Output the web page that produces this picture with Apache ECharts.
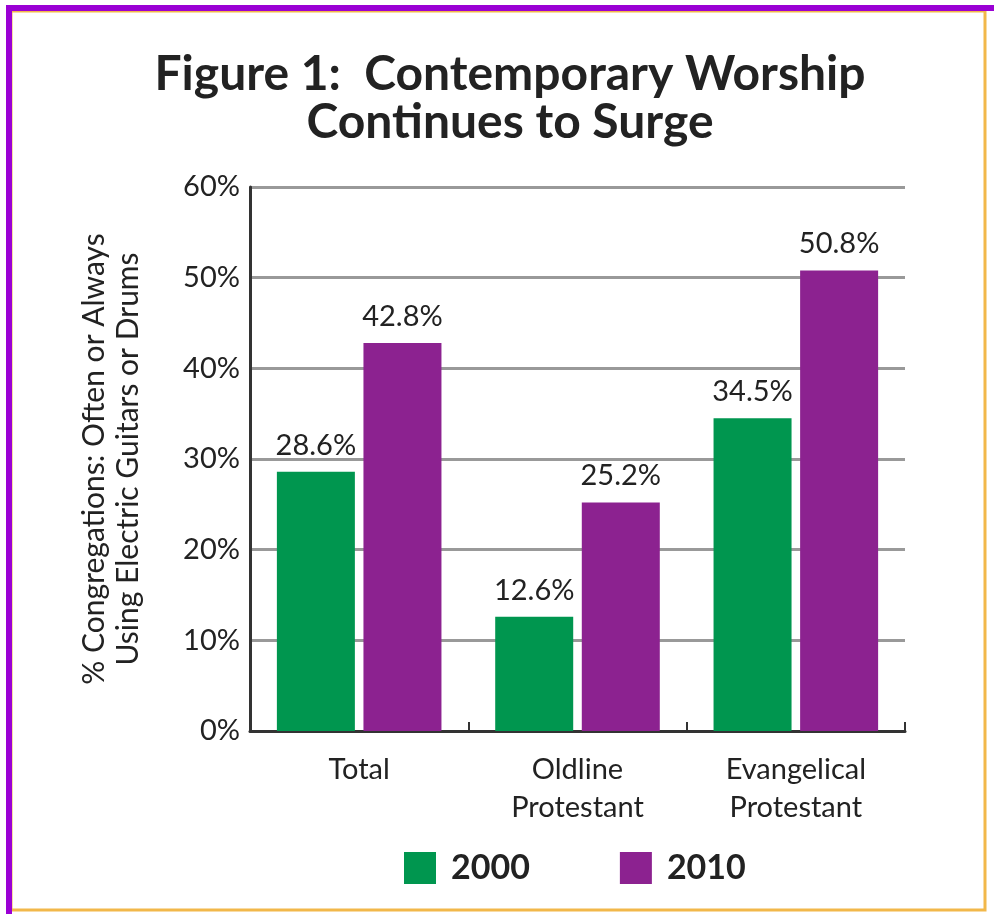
<!DOCTYPE html>
<html>
<head>
<meta charset="utf-8">
<script src="https://cdn.jsdelivr.net/npm/echarts@6/dist/echarts.min.js"></script>
<style>
html,body{margin:0;padding:0;background:#fff;}
#chart{width:994px;height:914px;}
</style>
</head>
<body>
<div id="chart"></div>
<script>
const categories = ['Total', 'Oldline\nProtestant', 'Evangelical\nProtestant'];
const seriesNames = ['2000', '2010'];
const values2000 = [28.6, 12.6, 34.5];
const values2010 = [42.8, 25.2, 50.8];
const yTicks = [0, 10, 20, 30, 40, 50, 60];

const FONT = 'Lato, "DejaVu Sans", sans-serif';
const GREEN = '#00964f';
const PURPLE = '#8c2290';

const chart = echarts.init(document.getElementById('chart'));
const labelCfg = {
  show: true, position: 'top', distance: 12,
  formatter: p => p.value.toFixed(1) + '%',
  fontFamily: FONT, fontSize: 29, color: '#222'
};
chart.setOption({
  backgroundColor: '#fff',
  title: {
    text: 'Figure 1:  Contemporary Worship\nContinues to Surge',
    left: 505, textAlign: 'center', top: 46,
    textStyle: { fontFamily: FONT, fontWeight: 'bold', fontSize: 48, lineHeight: 48, color: '#222' }
  },
  legend: {
    data: seriesNames, left: 399, top: 846,
    icon: 'rect', itemWidth: 32, itemHeight: 32, itemGap: 90,
    textStyle: { fontFamily: FONT, fontWeight: 'bold', fontSize: 34, color: '#222', padding: [0, 0, 0, 10] }
  },
  grid: { left: 250, right: 89, top: 187, bottom: 183 },
  xAxis: {
    type: 'category', data: categories,
    axisLine: { lineStyle: { color: '#333', width: 3 } },
    axisTick: { show: true, inside: true, length: 9, lineStyle: { color: '#333', width: 2 } },
    axisLabel: { fontFamily: FONT, fontSize: 29, color: '#222', lineHeight: 38, margin: 20 }
  },
  yAxis: {
    type: 'value', min: 0, max: 60, interval: 10,
    name: '% Congregations: Often or Always\nUsing Electric Guitars or Drums',
    nameLocation: 'middle', nameGap: 105, nameRotate: 90,
    nameTextStyle: { fontFamily: FONT, fontSize: 30, color: '#222', lineHeight: 34 },
    axisLine: { show: true, lineStyle: { color: '#333', width: 3 } },
    axisTick: { show: false },
    splitLine: { lineStyle: { color: '#999', width: 3 } },
    axisLabel: {
      fontFamily: FONT, fontSize: 29, color: '#222', margin: 10,
      formatter: v => yTicks.includes(v) ? v + '%' : ''
    }
  },
  series: [
    { name: seriesNames[0], type: 'bar', data: values2000, barWidth: 78, barGap: '11%',
      itemStyle: { color: GREEN }, label: labelCfg },
    { name: seriesNames[1], type: 'bar', data: values2010, barWidth: 78, barGap: '11%',
      itemStyle: { color: PURPLE }, label: labelCfg }
  ],
  graphic: [
    { type: 'rect', shape: { x: 11, y: 11, width: 974, height: 899 }, style: { fill: 'none', stroke: '#f2b84a', lineWidth: 3 }, silent: true },
    { type: 'rect', shape: { x: 6, y: 5, width: 6, height: 909 }, style: { fill: '#9a00d4' }, silent: true },
    { type: 'rect', shape: { x: 6, y: 5, width: 988, height: 6 }, style: { fill: '#9a00d4' }, silent: true }
  ]
});
</script>
</body>
</html>
